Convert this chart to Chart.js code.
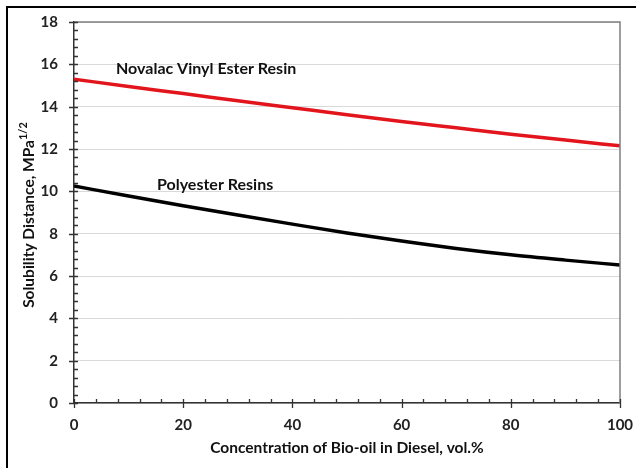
<!DOCTYPE html>
<html>
<head>
<meta charset="utf-8">
<script src="https://cdn.jsdelivr.net/npm/chart.js@4/dist/chart.umd.min.js"></script>
<style>
  html, body { margin: 0; padding: 0; background: #fff; }
  #wrap { width: 637px; height: 468px; position: relative; }
</style>
</head>
<body>
<div id="wrap"><canvas id="c"></canvas></div>
<script>
// Bio-oil concentration in diesel (vol.%)
const concentration = [0, 10, 20, 30, 40, 50, 60, 70, 80, 90, 100];
// Solubility distance, MPa^1/2
const novalacVinylEster = [15.3, 14.95, 14.62, 14.28, 13.95, 13.62, 13.3, 13.0, 12.7, 12.42, 12.15];
const polyesterResins   = [10.25, 9.78, 9.32, 8.88, 8.45, 8.03, 7.65, 7.3, 7.0, 6.75, 6.52];
const seriesNames = ['Novalac Vinyl Ester Resin', 'Polyester Resins'];
const xTicks = [0, 20, 40, 60, 80, 100];
const yTicks = [0, 2, 4, 6, 8, 10, 12, 14, 16, 18];

const FONT = 'Lato, "Open Sans", sans-serif';

// Curve labels, anchored in data units (left edge, vertical middle)
const curveLabels = [
  { text: seriesNames[0], x: 7.7, y: 15.8 },
  { text: seriesNames[1], x: 15.2, y: 10.3 }
];

const decorations = {
  id: 'decorations',
  beforeDraw(chart) {
    const ctx = chart.ctx;
    ctx.save();
    ctx.fillStyle = '#fff';
    ctx.fillRect(0, 0, chart.width, chart.height);
    // frame lines at top and left of the figure
    ctx.strokeStyle = '#000';
    ctx.lineWidth = 2;
    ctx.beginPath();
    ctx.moveTo(7, 468);
    ctx.lineTo(7, 7);
    ctx.lineTo(636, 7);
    ctx.stroke();
    ctx.restore();
  },
  afterDraw(chart) {
    const ctx = chart.ctx;
    const xs = chart.scales.x, ys = chart.scales.y;
    const a = chart.chartArea;
    ctx.save();
    // plot-area edges at top and right
    ctx.strokeStyle = '#7f7f7f';
    ctx.lineWidth = 1.5;
    ctx.beginPath();
    ctx.moveTo(a.left, a.top);
    ctx.lineTo(a.right, a.top);
    ctx.lineTo(a.right, a.bottom);
    ctx.stroke();

    // tick marks: majors cross the axis, minors point inward
    ctx.strokeStyle = '#333';
    ctx.lineWidth = 1.3;
    ctx.beginPath();
    for (let v = 0; v <= 18.001; v += 0.4) {
      const py = Math.round(ys.getPixelForValue(v)) + 0.5;
      const major = Math.abs(v / 2 - Math.round(v / 2)) < 1e-6;
      ctx.moveTo(a.left - (major ? 5 : 0), py);
      ctx.lineTo(a.left + 4, py);
    }
    for (let v = 0; v <= 100.001; v += 4) {
      const px = Math.round(xs.getPixelForValue(v)) + 0.5;
      const major = Math.abs(v / 20 - Math.round(v / 20)) < 1e-6;
      ctx.moveTo(px, a.bottom - 4);
      ctx.lineTo(px, a.bottom + (major ? 5 : 0));
    }
    ctx.stroke();

    // curve labels
    ctx.fillStyle = '#111';
    ctx.font = 'bold 16px ' + FONT;
    ctx.textBaseline = 'middle';
    ctx.textAlign = 'left';
    curveLabels.forEach(l => {
      ctx.fillText(l.text, xs.getPixelForValue(l.x), ys.getPixelForValue(l.y));
    });

    // y-axis title with superscript exponent
    const main = 'Solubility Distance, MPa';
    const sup = '1/2';
    ctx.font = 'bold 15.5px ' + FONT;
    const wMain = ctx.measureText(main).width;
    ctx.font = 'bold 11px ' + FONT;
    const wSup = ctx.measureText(sup).width;
    const total = wMain + wSup;
    ctx.translate(29, 215);
    ctx.rotate(-Math.PI / 2);
    ctx.textAlign = 'left';
    ctx.textBaseline = 'middle';
    ctx.font = 'bold 15.5px ' + FONT;
    ctx.fillText(main, -total / 2, 0);
    ctx.font = 'bold 11px ' + FONT;
    ctx.fillText(sup, -total / 2 + wMain, -6);
    ctx.restore();
  }
};

new Chart(document.getElementById('c'), {
  type: 'line',
  data: {
    labels: concentration,
    datasets: [
      {
        label: seriesNames[0],
        data: concentration.map((x, i) => ({ x, y: novalacVinylEster[i] })),
        borderColor: '#e3151c',
        borderWidth: 3.5,
        pointRadius: 0,
        cubicInterpolationMode: 'monotone',
        fill: false
      },
      {
        label: seriesNames[1],
        data: concentration.map((x, i) => ({ x, y: polyesterResins[i] })),
        borderColor: '#000',
        borderWidth: 3.5,
        pointRadius: 0,
        cubicInterpolationMode: 'monotone',
        fill: false
      }
    ]
  },
  options: {
    responsive: true,
    maintainAspectRatio: false,
    animation: false,
    layout: { padding: { left: 0, top: 22, right: 17, bottom: 0 } },
    plugins: {
      legend: { display: false },
      tooltip: { enabled: false }
    },
    scales: {
      x: {
        type: 'linear',
        min: 0,
        max: 100,
        afterBuildTicks: s => { s.ticks = xTicks.map(v => ({ value: v })); },
        afterFit: s => { s.height = 65; s.paddingLeft = 0; s.paddingRight = 0; },
        grid: { display: false, drawTicks: false },
        border: { display: true, color: '#333', width: 1.5 },
        ticks: {
          padding: 13,
          color: '#222',
          font: { family: FONT, size: 15, weight: 'bold' },
          maxRotation: 0
        },
        title: {
          display: true,
          text: 'Concentration of Bio-oil in Diesel, vol.%',
          color: '#111',
          font: { family: FONT, size: 15.5, weight: 'bold' },
          padding: { top: 0, bottom: 11 }
        }
      },
      y: {
        min: 0,
        max: 18,
        afterBuildTicks: s => { s.ticks = yTicks.map(v => ({ value: v })); },
        afterFit: s => { s.width = 74; s.paddingTop = 0; s.paddingBottom = 0; },
        grid: { color: '#d9d9d9', lineWidth: 1, drawTicks: false },
        border: { display: true, color: '#333', width: 1.5 },
        ticks: {
          padding: 16,
          color: '#222',
          font: { family: FONT, size: 15, weight: 'bold' }
        }
      }
    }
  },
  plugins: [decorations]
});
</script>
</body>
</html>
